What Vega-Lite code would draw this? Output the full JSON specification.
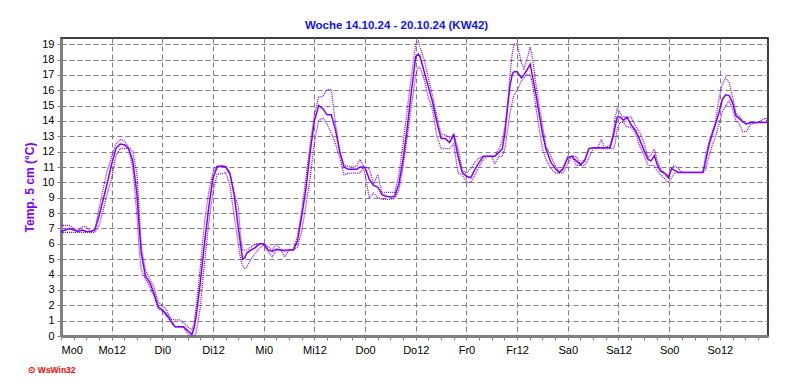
{
  "$schema": "https://vega.github.io/schema/vega-lite/v6.json",
  "width": 707,
  "height": 298,
  "autosize": {"type": "none"},
  "padding": {"left": 61, "top": 38, "right": 24, "bottom": 51},
  "background": "white",
  "config": {"view": {"stroke": "black", "strokeWidth": 1.5}, "font": "Liberation Sans"},
  "title": {"text": "Woche 14.10.24 - 20.10.24 (KW42)", "color": "#1010ff", "fontSize": 11.5, "fontWeight": "bold", "font": "Liberation Sans", "anchor": "middle", "dx": -18, "offset": 7},
  "data": {"values": [
    {"h": 0, "avg": 6.8, "max": 7.2, "min": 6.75},
    {"h": 1, "avg": 6.9, "max": 7.2, "min": 6.75},
    {"h": 2, "avg": 7.0, "max": 7.2, "min": 6.75},
    {"h": 3, "avg": 6.9, "max": 7.0, "min": 6.75},
    {"h": 4, "avg": 6.8, "max": 6.85, "min": 6.75},
    {"h": 5, "avg": 6.9, "max": 7.1, "min": 6.75},
    {"h": 6, "avg": 6.8, "max": 7.1, "min": 6.75},
    {"h": 7, "avg": 6.8, "max": 6.8, "min": 6.75},
    {"h": 8, "avg": 6.9, "max": 6.9, "min": 6.75},
    {"h": 9, "avg": 7.8, "max": 8.3, "min": 7.2},
    {"h": 10, "avg": 8.9, "max": 9.6, "min": 8.2},
    {"h": 11, "avg": 10.0, "max": 10.8, "min": 9.3},
    {"h": 12, "avg": 11.2, "max": 11.7, "min": 10.3},
    {"h": 13, "avg": 12.2, "max": 12.5, "min": 11.75},
    {"h": 14, "avg": 12.5, "max": 12.8, "min": 12.2},
    {"h": 15, "avg": 12.45, "max": 12.7, "min": 12.2},
    {"h": 16, "avg": 12.2, "max": 12.3, "min": 12.2},
    {"h": 17, "avg": 11.4, "max": 12.0, "min": 10.9},
    {"h": 18, "avg": 9.2, "max": 10.5, "min": 7.8},
    {"h": 18.5, "avg": 7.2, "max": 8.2, "min": 5.6},
    {"h": 19, "avg": 5.4, "max": 5.8, "min": 4.3},
    {"h": 20, "avg": 3.9, "max": 4.3, "min": 3.7},
    {"h": 21, "avg": 3.5, "max": 3.7, "min": 3.2},
    {"h": 22, "avg": 2.8, "max": 3.2, "min": 2.6},
    {"h": 23, "avg": 1.9, "max": 2.2, "min": 1.8},
    {"h": 24, "avg": 1.7, "max": 2.0, "min": 1.6},
    {"h": 25, "avg": 1.4, "max": 1.7, "min": 1.3},
    {"h": 26, "avg": 1.0, "max": 1.1, "min": 0.9},
    {"h": 27, "avg": 0.6, "max": 1.05, "min": 0.6},
    {"h": 28, "avg": 0.6, "max": 1.05, "min": 0.57},
    {"h": 29, "avg": 0.6, "max": 0.85, "min": 0.57},
    {"h": 30, "avg": 0.35, "max": 0.6, "min": 0.15},
    {"h": 31, "avg": 0.1, "max": 0.4, "min": 0.0},
    {"h": 31.5, "avg": 0.5, "max": 0.8, "min": 0.0},
    {"h": 32, "avg": 1.3, "max": 1.9, "min": 0.2},
    {"h": 33, "avg": 3.5, "max": 4.5, "min": 1.9},
    {"h": 34, "avg": 6.1, "max": 7.5, "min": 4.8},
    {"h": 35, "avg": 8.4, "max": 9.4, "min": 7.4},
    {"h": 36, "avg": 10.3, "max": 10.65, "min": 9.4},
    {"h": 37, "avg": 11.0, "max": 11.1, "min": 10.55},
    {"h": 38, "avg": 11.05, "max": 11.1, "min": 10.55},
    {"h": 39, "avg": 11.0, "max": 11.05, "min": 10.65},
    {"h": 40, "avg": 10.55, "max": 10.65, "min": 9.8},
    {"h": 41, "avg": 9.2, "max": 9.3, "min": 7.8},
    {"h": 42, "avg": 7.0, "max": 8.4, "min": 6.0},
    {"h": 42.5, "avg": 6.0, "max": 6.5, "min": 5.0},
    {"h": 43, "avg": 5.0, "max": 5.6, "min": 4.6},
    {"h": 43.5, "avg": 5.1, "max": 5.6, "min": 4.4},
    {"h": 44, "avg": 5.4, "max": 5.6, "min": 4.5},
    {"h": 45, "avg": 5.6, "max": 5.8, "min": 5.0},
    {"h": 46, "avg": 5.75, "max": 6.0, "min": 5.4},
    {"h": 47, "avg": 6.0, "max": 6.0, "min": 5.7},
    {"h": 48, "avg": 6.0, "max": 6.0, "min": 5.9},
    {"h": 49, "avg": 5.6, "max": 5.8, "min": 5.5},
    {"h": 50, "avg": 5.5, "max": 5.6, "min": 5.15},
    {"h": 51, "avg": 5.65, "max": 6.0, "min": 5.6},
    {"h": 52, "avg": 5.6, "max": 5.6, "min": 5.6},
    {"h": 53, "avg": 5.55, "max": 5.6, "min": 5.15},
    {"h": 54, "avg": 5.6, "max": 5.6, "min": 5.6},
    {"h": 55, "avg": 5.6, "max": 5.6, "min": 5.6},
    {"h": 56, "avg": 6.2, "max": 6.5, "min": 5.8},
    {"h": 57, "avg": 7.8, "max": 8.2, "min": 6.8},
    {"h": 58, "avg": 9.6, "max": 10.3, "min": 8.5},
    {"h": 59, "avg": 12.0, "max": 12.5, "min": 10.3},
    {"h": 60, "avg": 14.0, "max": 14.4, "min": 12.6},
    {"h": 61, "avg": 15.0, "max": 15.55, "min": 14.0},
    {"h": 62, "avg": 14.8, "max": 15.6, "min": 14.2},
    {"h": 63, "avg": 14.4, "max": 16.05, "min": 13.8},
    {"h": 64, "avg": 14.4, "max": 16.05, "min": 13.2},
    {"h": 65, "avg": 13.4, "max": 13.8, "min": 12.5},
    {"h": 66, "avg": 12.0, "max": 12.0, "min": 11.6},
    {"h": 67, "avg": 11.0, "max": 11.1, "min": 10.5},
    {"h": 68, "avg": 10.85, "max": 11.05, "min": 10.6},
    {"h": 69, "avg": 10.85, "max": 11.05, "min": 10.6},
    {"h": 70, "avg": 10.85, "max": 11.05, "min": 10.6},
    {"h": 70.8, "avg": 11.0, "max": 11.5, "min": 10.6},
    {"h": 71.5, "avg": 11.0, "max": 11.1, "min": 10.95},
    {"h": 72, "avg": 10.95, "max": 11.0, "min": 10.5},
    {"h": 73, "avg": 10.2, "max": 10.9, "min": 9.0},
    {"h": 74, "avg": 9.8, "max": 9.9, "min": 9.3},
    {"h": 75, "avg": 9.7, "max": 10.5, "min": 9.0},
    {"h": 76, "avg": 9.2, "max": 9.3, "min": 8.9},
    {"h": 77, "avg": 9.1, "max": 9.35, "min": 8.9},
    {"h": 78, "avg": 9.05, "max": 9.35, "min": 8.9},
    {"h": 79, "avg": 9.1, "max": 9.35, "min": 8.95},
    {"h": 80, "avg": 9.9, "max": 10.5, "min": 9.5},
    {"h": 81, "avg": 11.5, "max": 12.5, "min": 11.0},
    {"h": 82, "avg": 13.6, "max": 14.8, "min": 13.0},
    {"h": 83, "avg": 16.0, "max": 17.0, "min": 15.0},
    {"h": 84, "avg": 18.2, "max": 19.0, "min": 17.0},
    {"h": 84.6, "avg": 18.35, "max": 19.2, "min": 17.5},
    {"h": 85, "avg": 18.2, "max": 18.8, "min": 17.5},
    {"h": 86, "avg": 17.2, "max": 18.0, "min": 16.7},
    {"h": 87, "avg": 16.2, "max": 16.8, "min": 15.5},
    {"h": 88, "avg": 15.2, "max": 15.6, "min": 14.7},
    {"h": 89, "avg": 13.9, "max": 14.3, "min": 13.0},
    {"h": 90, "avg": 12.85, "max": 13.1, "min": 12.2},
    {"h": 91, "avg": 12.85, "max": 13.1, "min": 12.2},
    {"h": 92, "avg": 12.6, "max": 12.9, "min": 12.2},
    {"h": 93, "avg": 13.1, "max": 13.1, "min": 12.5},
    {"h": 94, "avg": 11.7, "max": 12.2, "min": 10.6},
    {"h": 95, "avg": 10.65, "max": 10.8, "min": 10.5},
    {"h": 96, "avg": 10.4, "max": 10.6, "min": 10.0},
    {"h": 97, "avg": 10.3, "max": 10.9, "min": 10.0},
    {"h": 98, "avg": 10.85, "max": 11.3, "min": 10.5},
    {"h": 99, "avg": 11.3, "max": 11.6, "min": 11.0},
    {"h": 100, "avg": 11.7, "max": 11.7, "min": 11.5},
    {"h": 101, "avg": 11.7, "max": 11.7, "min": 11.7},
    {"h": 102, "avg": 11.7, "max": 11.7, "min": 11.7},
    {"h": 102.7, "avg": 11.7, "max": 11.7, "min": 11.2},
    {"h": 103.7, "avg": 11.95, "max": 12.2, "min": 11.7},
    {"h": 104.5, "avg": 12.2, "max": 12.8, "min": 11.7},
    {"h": 105.1, "avg": 13.2, "max": 13.6, "min": 12.2},
    {"h": 105.7, "avg": 14.8, "max": 15.0, "min": 13.3},
    {"h": 106.3, "avg": 16.3, "max": 17.0, "min": 14.5},
    {"h": 106.9, "avg": 17.1, "max": 18.5, "min": 15.3},
    {"h": 107.3, "avg": 17.2, "max": 19.0, "min": 15.7},
    {"h": 108, "avg": 17.2, "max": 19.0, "min": 16.0},
    {"h": 109, "avg": 16.8, "max": 17.8, "min": 16.6},
    {"h": 109.6, "avg": 17.0, "max": 17.4, "min": 16.8},
    {"h": 110.3, "avg": 17.3, "max": 18.0, "min": 17.0},
    {"h": 111.1, "avg": 17.7, "max": 18.8, "min": 17.0},
    {"h": 111.7, "avg": 16.8, "max": 18.0, "min": 16.3},
    {"h": 112.4, "avg": 15.8, "max": 16.5, "min": 15.0},
    {"h": 113.2, "avg": 14.5, "max": 15.0, "min": 13.5},
    {"h": 114, "avg": 13.2, "max": 13.7, "min": 12.2},
    {"h": 114.8, "avg": 12.2, "max": 12.4, "min": 11.5},
    {"h": 116, "avg": 11.3, "max": 11.7, "min": 10.9},
    {"h": 117.2, "avg": 10.85, "max": 11.0, "min": 10.6},
    {"h": 118, "avg": 10.65, "max": 10.65, "min": 10.6},
    {"h": 118.8, "avg": 10.85, "max": 10.9, "min": 10.6},
    {"h": 120, "avg": 11.6, "max": 11.7, "min": 11.2},
    {"h": 121, "avg": 11.7, "max": 11.7, "min": 11.7},
    {"h": 122, "avg": 11.4, "max": 11.7, "min": 11.1},
    {"h": 123, "avg": 11.15, "max": 11.2, "min": 11.1},
    {"h": 124, "avg": 11.4, "max": 11.5, "min": 11.1},
    {"h": 125, "avg": 12.2, "max": 12.2, "min": 11.6},
    {"h": 126, "avg": 12.25, "max": 12.25, "min": 12.2},
    {"h": 127, "avg": 12.25, "max": 12.25, "min": 12.2},
    {"h": 128, "avg": 12.25, "max": 12.8, "min": 12.2},
    {"h": 128.6, "avg": 12.25, "max": 12.25, "min": 12.2},
    {"h": 130, "avg": 12.25, "max": 12.4, "min": 12.2},
    {"h": 130.8, "avg": 13.05, "max": 13.3, "min": 12.2},
    {"h": 131.2, "avg": 13.6, "max": 14.2, "min": 12.5},
    {"h": 131.7, "avg": 14.25, "max": 14.8, "min": 13.5},
    {"h": 132.4, "avg": 14.25, "max": 14.5, "min": 13.9},
    {"h": 133.2, "avg": 14.05, "max": 14.25, "min": 13.9},
    {"h": 134, "avg": 14.25, "max": 14.25, "min": 13.6},
    {"h": 135, "avg": 13.75, "max": 14.25, "min": 13.6},
    {"h": 136, "avg": 13.4, "max": 13.7, "min": 13.2},
    {"h": 137, "avg": 12.8, "max": 13.3, "min": 12.4},
    {"h": 138, "avg": 12.1, "max": 12.6, "min": 11.8},
    {"h": 139, "avg": 11.5, "max": 11.6, "min": 11.1},
    {"h": 139.7, "avg": 11.4, "max": 11.8, "min": 11.1},
    {"h": 140.5, "avg": 11.75, "max": 12.15, "min": 11.1},
    {"h": 141.1, "avg": 11.2, "max": 11.5, "min": 10.8},
    {"h": 141.9, "avg": 10.75, "max": 10.9, "min": 10.5},
    {"h": 143.1, "avg": 10.55, "max": 10.55, "min": 10.2},
    {"h": 143.8, "avg": 10.3, "max": 10.4, "min": 10.0},
    {"h": 144.6, "avg": 10.9, "max": 10.9, "min": 10.3},
    {"h": 145.2, "avg": 10.8, "max": 11.1, "min": 10.6},
    {"h": 146.2, "avg": 10.65, "max": 10.9, "min": 10.65},
    {"h": 147, "avg": 10.65, "max": 10.65, "min": 10.65},
    {"h": 152, "avg": 10.65, "max": 10.65, "min": 10.65},
    {"h": 152.6, "avg": 11.35, "max": 11.7, "min": 10.8},
    {"h": 153.4, "avg": 12.4, "max": 12.6, "min": 11.7},
    {"h": 154.2, "avg": 13.15, "max": 13.3, "min": 12.4},
    {"h": 155, "avg": 13.8, "max": 14.0, "min": 13.0},
    {"h": 155.8, "avg": 14.55, "max": 15.5, "min": 13.8},
    {"h": 156.6, "avg": 15.4, "max": 16.4, "min": 14.6},
    {"h": 157.4, "avg": 15.7, "max": 16.8, "min": 15.0},
    {"h": 158.2, "avg": 15.65, "max": 16.5, "min": 15.3},
    {"h": 159, "avg": 15.2, "max": 15.6, "min": 14.8},
    {"h": 159.8, "avg": 14.35, "max": 14.5, "min": 14.0},
    {"h": 160.6, "avg": 14.15, "max": 14.3, "min": 13.8},
    {"h": 161.4, "avg": 13.95, "max": 14.0, "min": 13.3},
    {"h": 162.2, "avg": 13.8, "max": 13.8, "min": 13.3},
    {"h": 163.4, "avg": 13.9, "max": 13.9, "min": 13.8},
    {"h": 165, "avg": 13.9, "max": 13.9, "min": 13.9},
    {"h": 166.9, "avg": 13.9, "max": 14.2, "min": 13.9},
    {"h": 167.3, "avg": 13.9, "max": 13.9, "min": 13.9}
  ]},
  "encoding": {
    "x": {
      "field": "h", "type": "quantitative",
      "scale": {"domain": [0, 167.4], "nice": false, "zero": false},
      "axis": {
        "values": [0,3,6,9,12,15,18,21,24,27,30,33,36,39,42,45,48,51,54,57,60,63,66,69,72,75,78,81,84,87,90,93,96,99,102,105,108,111,114,117,120,123,126,129,132,135,138,141,144,147,150,153,156,159,162,165],
        "labelExpr": "datum.value % 12 === 0 ? ['Mo','Di','Mi','Do','Fr','Sa','So'][floor(datum.value / 24)] + (datum.value % 24) : ''",
        "labelOverlap": false,
        "labelFontSize": 11,
        "labelColor": "black",
        "labelFont": "Liberation Sans",
        "labelPadding": 4,
        "tickColor": "#808080",
        "tickSize": 4,
        "tickWidth": 1,
        "domainColor": "#808080",
        "domainWidth": 3,
        "grid": true,
        "gridColor": "#808080",
        "gridDash": [5, 3],
        "gridWidth": 1,
        "gridOpacity": {"condition": {"test": "datum.value % 12 === 0 && datum.value > 0", "value": 1}, "value": 0},
        "title": "⊙ WsWin32",
        "titleColor": "#ff0000",
        "titleFontSize": 8.5,
        "titleFontWeight": "bold",
        "titleFont": "Liberation Sans",
        "titleAlign": "left",
        "titleBaseline": "middle",
        "titleX": -34,
        "titleY": 33
      }
    }
  },
  "layer": [
    {
      "mark": {"type": "line", "color": "#8000ff", "strokeWidth": 1.2, "strokeDash": [1, 1]},
      "encoding": {
        "y": {
          "field": "max", "type": "quantitative",
          "scale": {"domain": [0, 19.4], "nice": false, "zero": false},
          "axis": {
            "values": [0,1,2,3,4,5,6,7,8,9,10,11,12,13,14,15,16,17,18,19],
            "labelFontSize": 11, "labelColor": "black", "labelFont": "Liberation Sans", "labelPadding": 3,
            "tickColor": "#808080", "tickSize": 4,
            "domainColor": "#808080", "domainWidth": 3,
            "grid": true, "gridColor": "#808080", "gridDash": [5, 3], "gridWidth": 1, "gridOpacity": 1,
            "title": "Temp. 5 cm (°C)", "titleColor": "#8000ff", "titleFontSize": 12, "titleFontWeight": "bold", "titleFont": "Liberation Sans", "titlePadding": 5
          }
        }
      }
    },
    {
      "mark": {"type": "line", "color": "#8000ff", "strokeWidth": 1.2, "strokeDash": [1, 1]},
      "encoding": {"y": {"field": "min", "type": "quantitative",
          "axis": {
            "values": [0,1,2,3,4,5,6,7,8,9,10,11,12,13,14,15,16,17,18,19],
            "labelFontSize": 11, "labelColor": "black", "labelFont": "Liberation Sans", "labelPadding": 3,
            "tickColor": "#808080", "tickSize": 4,
            "domainColor": "#808080", "domainWidth": 3,
            "grid": true, "gridColor": "#808080", "gridDash": [5, 3], "gridWidth": 1, "gridOpacity": 1,
            "title": "Temp. 5 cm (°C)", "titleColor": "#8000ff", "titleFontSize": 12, "titleFontWeight": "bold", "titleFont": "Liberation Sans", "titlePadding": 5
          }}}
    },
    {
      "mark": {"type": "line", "color": "#8000ff", "strokeWidth": 1.5},
      "encoding": {"y": {"field": "avg", "type": "quantitative",
          "axis": {
            "values": [0,1,2,3,4,5,6,7,8,9,10,11,12,13,14,15,16,17,18,19],
            "labelFontSize": 11, "labelColor": "black", "labelFont": "Liberation Sans", "labelPadding": 3,
            "tickColor": "#808080", "tickSize": 4,
            "domainColor": "#808080", "domainWidth": 3,
            "grid": true, "gridColor": "#808080", "gridDash": [5, 3], "gridWidth": 1, "gridOpacity": 1,
            "title": "Temp. 5 cm (°C)", "titleColor": "#8000ff", "titleFontSize": 12, "titleFontWeight": "bold", "titleFont": "Liberation Sans", "titlePadding": 5
          }}}
    }
  ]
}
